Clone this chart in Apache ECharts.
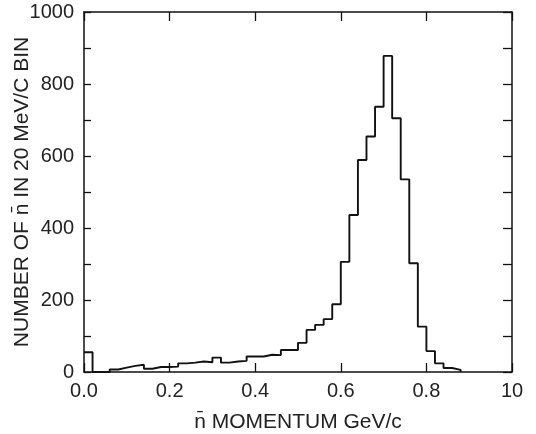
<!DOCTYPE html>
<html>
<head>
<meta charset="utf-8">
<script src="https://cdn.jsdelivr.net/npm/echarts@6/dist/echarts.min.js"></script>
<style>html,body{margin:0;padding:0;background:#fff;}#c{width:536px;height:434px;}</style>
</head>
<body>
<div id="c"></div>
<script>
// Bin left edges (GeV/c), 20 MeV/c bins
var binEdges = [0.00,0.02,0.04,0.06,0.08,0.10,0.12,0.14,0.16,0.18,
                0.20,0.22,0.24,0.26,0.28,0.30,0.32,0.34,0.36,0.38,
                0.40,0.42,0.44,0.46,0.48,0.50,0.52,0.54,0.56,0.58,
                0.60,0.62,0.64,0.66,0.68,0.70,0.72,0.74,0.76,0.78,
                0.80,0.82,0.84,0.86,0.88];
// Counts per bin
var counts = [55,0,0,7,12,17,20,9,14,14,
              15,24,26,29,27,40,26,29,31,43,
              43,48,47,61,61,81,117,131,147,188,
              306,436,589,654,737,878,705,535,302,126,
              58,24,11,6,0];
var xTickLabels = ["0.0","0.2","0.4","0.6","0.8","10"];
var yTickLabels = ["0","200","400","600","800","1000"];
var xName = "n\u0304 MOMENTUM GeV/c";
var yName = "NUMBER OF n\u0304 IN 20 MeV/C BIN";

var data = binEdges.map(function(e,i){ return [e, counts[i]]; });

var chart = echarts.init(document.getElementById('c'));
var font = '"Liberation Sans", Arial, Helvetica, sans-serif';
var axisLine = {show:true, onZero:false, lineStyle:{color:'#111', width:1.5}};
chart.setOption({
  animation:false,
  grid:{left:84, right:24, top:12, bottom:62, containLabel:false, outerBoundsMode:'none'},
  xAxis:[{
    type:'value', min:0, max:1, interval:0.2, position:'bottom',
    name:xName, nameLocation:'middle', nameGap:40, nameMoveOverlap:false,
    nameTextStyle:{fontFamily:font, fontSize:21, color:'#222'},
    axisLine:axisLine,
    axisTick:{show:true, inside:true, length:9, lineStyle:{color:'#111', width:1.3}},
    axisLabel:{fontFamily:font, fontSize:20, color:'#222', margin:9,
      formatter:function(v){ var i=Math.round(v/0.2); return xTickLabels[i]!==undefined?xTickLabels[i]:''; }},
    splitLine:{show:false}
  },{
    type:'value', min:0, max:1, interval:0.2, position:'top',
    axisLine:axisLine,
    axisTick:{show:true, inside:true, length:9, lineStyle:{color:'#111', width:1.3}},
    axisLabel:{show:false}, splitLine:{show:false}
  }],
  yAxis:[{
    type:'value', min:0, max:1000, interval:100, position:'left',
    name:yName, nameLocation:'middle', nameGap:51, nameRotate:90, nameMoveOverlap:false,
    nameTextStyle:{fontFamily:font, fontSize:21, color:'#222'},
    axisLine:axisLine,
    axisTick:{show:true, inside:true, length:7, lineStyle:{color:'#111', width:1.3}},
    axisLabel:{fontFamily:font, fontSize:20, color:'#222', margin:10,
      formatter:function(v){ if (Math.round(v)%200!==0) return ''; var i=Math.round(v/200); return yTickLabels[i]; }},
    splitLine:{show:false}
  },{
    type:'value', min:0, max:1000, interval:100, position:'right',
    axisLine:axisLine,
    axisTick:{show:true, inside:true, length:9, lineStyle:{color:'#111', width:1.3}},
    axisLabel:{show:false}, splitLine:{show:false}
  }],
  series:[{
    type:'line', step:'end', xAxisIndex:0, yAxisIndex:0,
    data:data, symbol:'none', clip:true,
    lineStyle:{color:'#111', width:1.9}
  }]
});
</script>
</body>
</html>
